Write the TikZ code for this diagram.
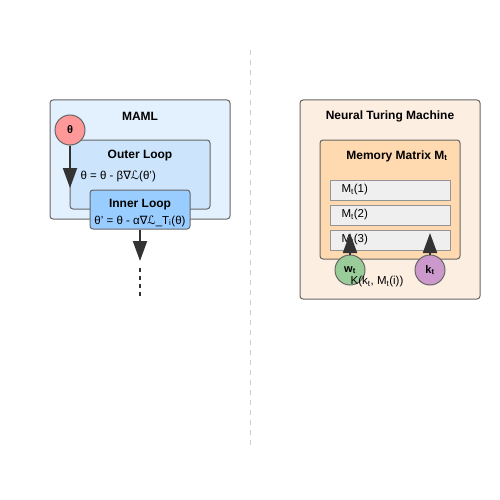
\documentclass[tikz,border=0pt]{standalone}
\usepackage{fontspec}
\setmainfont{Liberation Sans}
\newfontfamily\symfont{DejaVu Sans}
\usetikzlibrary{arrows.meta}
\definecolor{strokeC}{HTML}{666666}
\definecolor{mamlC}{HTML}{E3F0FD}
\definecolor{outerC}{HTML}{CCE4FC}
\definecolor{innerC}{HTML}{99CCFF}
\definecolor{ntmC}{HTML}{FDEEE2}
\definecolor{memC}{HTML}{FFD9B0}
\definecolor{rowC}{HTML}{EFEFEF}
\definecolor{thetaC}{HTML}{FF9999}
\definecolor{wC}{HTML}{99CC99}
\definecolor{kC}{HTML}{CC99CC}
\definecolor{arrC}{HTML}{333333}
\definecolor{divC}{HTML}{CCCCCC}
\begin{document}
\begin{tikzpicture}[x=1pt,y=-1pt,
  box/.style={draw=strokeC, line width=1pt, rounded corners=3pt, inner sep=0pt},
  rowbox/.style={draw=strokeC!70, line width=1pt, fill=rowC, inner sep=0pt, minimum width=120pt, minimum height=20pt},
  circ/.style={circle, draw=strokeC, line width=1pt, minimum size=30pt, inner sep=0pt, font=\bfseries\fontsize{11}{13}\selectfont},
  ttl/.style={font=\bfseries\fontsize{12}{14}\selectfont},
  body/.style={font=\fontsize{11.5}{13}\selectfont},
  arr/.style={draw=arrC, line width=2pt, -{Triangle[width=14pt,length=20pt]}},
]
\useasboundingbox (0,0) rectangle (500,500);
\fill[white] (0,0) rectangle (500,500);
% divider
\draw[divC, line width=1pt, dash pattern=on 5pt off 5pt] (250,50) -- (250,445);

% ---- MAML ----
\node[box, fill=mamlC, minimum width=180pt, minimum height=119pt] (maml) at (140,159.5) {};
\node[ttl] (mamlt) at (140,116) {MAML};
\node[box, fill=outerC, minimum width=140pt, minimum height=69pt] (outer) at (140,174.5) {};
\node[ttl] (outert) at (140,156) {Outer Loop};
\node[body, anchor=west] (outerf) at (77,176) {θ = θ - β{\symfont ∇ℒ}(θ')};
\node[circ, fill=thetaC] (theta) at (70,130) {θ};
\coordinate (thetaend) at (70,188);
\draw[arr] (theta) -- (thetaend);
\node[box, fill=innerC, minimum width=100pt, minimum height=39pt] (inner) at (140,209.5) {};
\node[ttl] (innert) at (140,205) {Inner Loop};
\node[body] (innerf) at (140,221) {θ' = θ - α{\symfont ∇ℒ}\_T\textsubscript{i}(θ)};
\coordinate (innerend) at (140,261);
\draw[arr] (inner) -- (innerend);
\coordinate (dA) at (140,268);
\coordinate (dB) at (140,296);
\draw[arrC, line width=2pt, dash pattern=on 4pt off 4pt] (dA) -- (dB);

% ---- NTM ----
\node[box, fill=ntmC, minimum width=180pt, minimum height=199pt] (ntm) at (390,199.5) {};
\node[ttl] (ntmt) at (390,116) {Neural Turing Machine};
\node[box, fill=memC, minimum width=140pt, minimum height=119pt] (mem) at (390,199.5) {};
\node[ttl] (memt) at (397,156) {Memory Matrix M\textsubscript{t}};
\node[rowbox] (r1) at (390,190) {};
\node[rowbox] (r2) at (390,215) {};
\node[rowbox] (r3) at (390,240) {};
\node[body, anchor=west] at (338,190) {M\textsubscript{t}(1)};
\node[body, anchor=west] at (338,215) {M\textsubscript{t}(2)};
\node[body, anchor=west] at (338,240) {M\textsubscript{t}(3)};
\node[circ, fill=wC] (w) at (350,270) {w\textsubscript{t}};
\node[circ, fill=kC] (k) at (430,270) {k\textsubscript{t}};
\coordinate (wend) at (350,233);
\coordinate (kend) at (430,233);
\draw[arr] (w) -- (wend);
\draw[arr] (k) -- (kend);
\node[body] (klab) at (377,282) {K(k\textsubscript{t}, M\textsubscript{t}(i))};
\end{tikzpicture}
\end{document}
